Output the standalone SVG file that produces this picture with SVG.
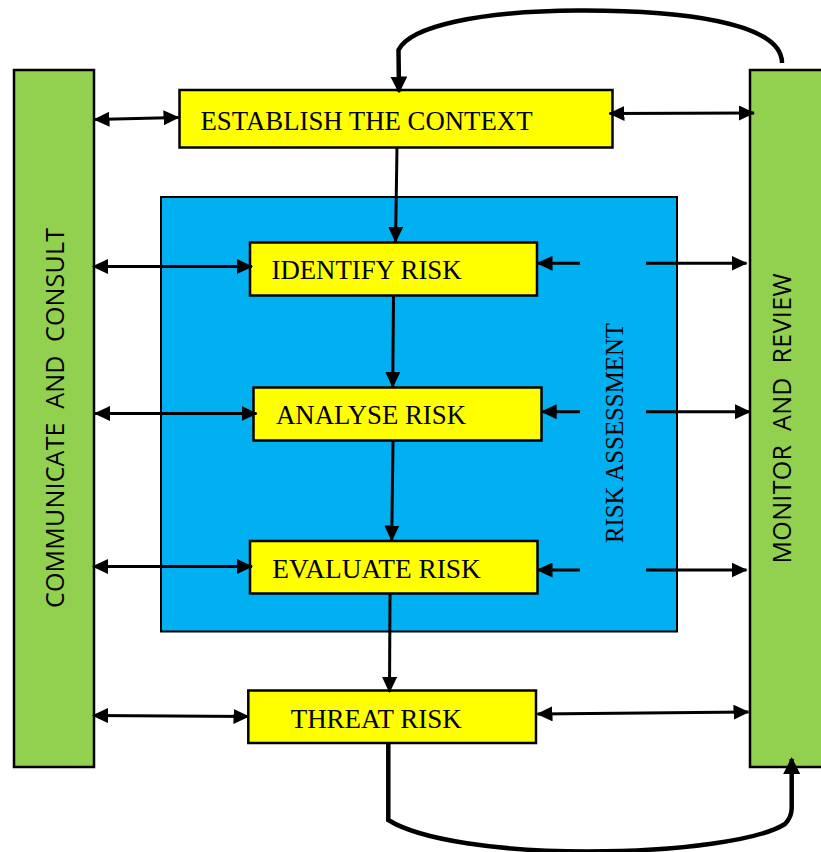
<svg xmlns="http://www.w3.org/2000/svg" width="821" height="852" viewBox="0 0 821 852">
  <style>
    .bar { fill: #92D050; stroke: #000; stroke-width: 2.5; }
    .step { fill: #FFFF00; stroke: #000; stroke-width: 2.5; }
    .zone { fill: #00B0F0; stroke: #000; stroke-width: 2; }
    .serif { font-family: "Liberation Serif", "Times New Roman", serif; fill: #000; }
    .sans { font-family: "Open Sans", "DejaVu Sans", sans-serif; fill: #000; }
    .link { fill: none; stroke: #000; stroke-width: 3; }
    .dbl { marker-start: url(#head); marker-end: url(#head); }
    .one { marker-end: url(#head); }
    .loop { fill: none; stroke: #000; stroke-width: 4.5; marker-end: url(#bighead); }
  </style>
  <defs>
    <marker id="head" markerUnits="userSpaceOnUse" markerWidth="16" markerHeight="15" refX="15" refY="7.5" orient="auto-start-reverse">
      <path d="M0,0 L16,7.5 L0,15 z" fill="#000"/>
    </marker>
    <marker id="bighead" markerUnits="userSpaceOnUse" markerWidth="17" markerHeight="17" refX="15" refY="8.5" orient="auto">
      <path d="M0,0 L17,8.5 L0,17 z" fill="#000"/>
    </marker>
  </defs>

  <rect width="821" height="852" fill="#fff"/>

  <!-- side bars -->
  <g id="communicate">
    <rect class="bar" x="14" y="70" width="80" height="697"/>
    <text class="sans" font-size="25" transform="translate(63.5,608) rotate(-90)" textLength="380" lengthAdjust="spacing" xml:space="preserve">COMMUNICATE  AND  CONSULT</text>
  </g>
  <g id="monitor">
    <rect class="bar" x="750" y="70" width="80" height="697"/>
    <text class="sans" font-size="25" transform="translate(790.5,563.5) rotate(-90)" textLength="290" lengthAdjust="spacing" xml:space="preserve">MONITOR  AND  REVIEW</text>
  </g>

  <!-- risk assessment zone -->
  <g id="assessment">
    <rect class="zone" x="161" y="197" width="516" height="434.5"/>
    <text class="serif" font-size="25" transform="translate(623,543) rotate(-90)" textLength="220" lengthAdjust="spacingAndGlyphs">RISK ASSESSMENT</text>
  </g>

  <!-- process steps -->
  <g id="establish">
    <rect class="step" x="179.5" y="90" width="433" height="57.5"/>
    <text class="serif" font-size="26.5" x="200.5" y="129.5" textLength="332" lengthAdjust="spacingAndGlyphs">ESTABLISH THE CONTEXT</text>
  </g>
  <g id="identify">
    <rect class="step" x="250" y="242.5" width="287" height="53"/>
    <text class="serif" font-size="26.5" x="271.5" y="279" textLength="190" lengthAdjust="spacingAndGlyphs">IDENTIFY RISK</text>
  </g>
  <g id="analyse">
    <rect class="step" x="253.5" y="387.5" width="288" height="53"/>
    <text class="serif" font-size="26.5" x="276" y="424" textLength="190" lengthAdjust="spacingAndGlyphs">ANALYSE RISK</text>
  </g>
  <g id="evaluate">
    <rect class="step" x="250" y="541" width="287.5" height="52.5"/>
    <text class="serif" font-size="26.5" x="272.3" y="578.3" textLength="208.5" lengthAdjust="spacingAndGlyphs">EVALUATE RISK</text>
  </g>
  <g id="threat">
    <rect class="step" x="248.3" y="690.5" width="287.7" height="52.5"/>
    <text class="serif" font-size="26.5" x="290.7" y="728.3" textLength="171" lengthAdjust="spacingAndGlyphs">THREAT RISK</text>
  </g>

  <!-- connectors -->
  <g id="connectors">
    <!-- main flow -->
    <line class="link one" stroke-width="3.5" x1="397" y1="148" x2="395.5" y2="242"/>
    <line class="link one" stroke-width="3.5" x1="393.5" y1="296" x2="392.7" y2="387"/>
    <line class="link one" stroke-width="3.5" x1="393" y1="441" x2="391.7" y2="540.5"/>
    <line class="link one" stroke-width="3.5" x1="390" y1="594" x2="389.5" y2="692"/>

    <!-- communicate and consult links -->
    <line class="link dbl" x1="94.5" y1="119.5" x2="178.5" y2="117.5"/>
    <line class="link dbl" x1="93" y1="266.5" x2="252" y2="266.5"/>
    <line class="link dbl" x1="95" y1="413.5" x2="256.5" y2="413.5"/>
    <line class="link dbl" x1="93" y1="566.5" x2="252" y2="566.5"/>
    <line class="link dbl" x1="93" y1="715.5" x2="248.5" y2="716.5"/>

    <!-- monitor and review links -->
    <line class="link dbl" x1="609.5" y1="113.5" x2="754" y2="113"/>
    <line class="link one" x1="580" y1="263.3" x2="537.5" y2="263.3"/>
    <line class="link one" x1="646" y1="263.3" x2="746.5" y2="263.3"/>
    <line class="link one" x1="580" y1="411.7" x2="541.7" y2="411.7"/>
    <line class="link one" x1="646" y1="411.7" x2="750" y2="411.7"/>
    <line class="link one" x1="580" y1="570" x2="537.5" y2="570"/>
    <line class="link one" x1="646" y1="570" x2="746.5" y2="570"/>
    <line class="link dbl" x1="537.5" y1="714" x2="748.5" y2="712"/>

    <!-- feedback loops -->
    <path class="loop" d="M782,63 C782,22 680,10 578,10.5 C480,11 410,26 398.5,50 L399,91.5"/>
    <path class="loop" d="M388.3,743 L388.3,820 C420,840 500,851.5 587,851.5 C680,851.5 760,840 785,824 Q791.7,817 791.7,808 L791.7,759"/>
  </g>
</svg>
